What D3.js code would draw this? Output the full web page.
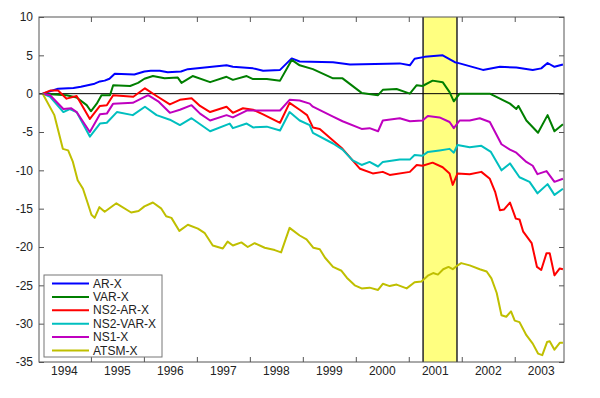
<!DOCTYPE html>
<html>
<head>
<meta charset="utf-8">
<style>
  body { margin: 0; background: #fff; }
  svg { font-family: "Liberation Sans", Arial, sans-serif; }
  .series { fill: none; stroke-width: 2px; stroke-linejoin: round; }
</style>
</head>
<body>
<svg width="600" height="398"></svg>
<script src="https://d3js.org/d3.v7.min.js"></script>
<script>
// values as [decimal year, value]
const arX = [[1994.09,0],[1994.38,0.65],[1994.67,0.75],[1994.81,0.9],[1994.94,1.1],[1995.07,1.3],[1995.17,1.6],[1995.26,1.7],[1995.35,1.95],[1995.45,2.6],[1995.82,2.5],[1996.01,2.9],[1996.13,3.0],[1996.30,3.0],[1996.45,2.8],[1996.70,2.9],[1996.83,3.2],[1997.56,3.7],[1997.68,3.5],[1998.06,3.3],[1998.25,3.0],[1998.57,3.1],[1998.79,4.6],[1998.94,4.2],[1999.57,4.1],[1999.89,3.8],[2000.83,3.95],[2001.02,3.7],[2001.11,4.55],[2001.30,4.8],[2001.64,5.0],[2001.87,4.1],[2001.96,3.95],[2002.40,3.1],[2002.72,3.5],[2003.03,3.4],[2003.34,3.1],[2003.50,3.3],[2003.62,4.0],[2003.75,3.5],[2003.91,3.8]];

const varX = [[1994.09,0],[1994.54,-0.2],[1994.73,-0.5],[1994.92,-1.5],[1995.00,-2.3],[1995.11,-1.3],[1995.20,-0.2],[1995.36,-0.2],[1995.42,1.1],[1995.74,1.0],[1995.89,1.4],[1996.01,1.95],[1996.17,2.3],[1996.39,2.0],[1996.64,2.1],[1996.71,1.4],[1996.92,2.3],[1997.25,1.5],[1997.56,2.2],[1997.68,1.8],[1997.94,2.3],[1998.06,1.9],[1998.32,1.9],[1998.57,1.7],[1998.79,4.4],[1998.94,3.7],[1999.19,3.2],[1999.57,2.0],[1999.75,2.0],[2000.11,0.1],[2000.42,-0.2],[2000.51,0.5],[2000.77,0.6],[2001.02,0.0],[2001.15,1.1],[2001.26,1.0],[2001.45,1.7],[2001.64,1.5],[2001.77,0.2],[2001.85,-1.0],[2001.96,0.0],[2002.53,0],[2002.91,-1.3],[2003.03,-2.0],[2003.07,-1.6],[2003.22,-3.5],[2003.44,-5.1],[2003.62,-2.8],[2003.75,-4.9],[2003.91,-4.0]];

const ns2arX = [[1994.09,0],[1994.23,0.4],[1994.38,0.4],[1994.54,-0.65],[1994.73,-0.3],[1994.98,-3.3],[1995.17,-1.6],[1995.30,-1.5],[1995.42,-0.2],[1995.80,-0.4],[1996.02,0.7],[1996.24,-0.3],[1996.49,-1.4],[1996.68,-0.8],[1996.90,-0.6],[1997.06,-1.6],[1997.25,-2.4],[1997.56,-1.7],[1997.68,-2.5],[1997.87,-1.9],[1998.06,-2.1],[1998.25,-2.7],[1998.57,-3.8],[1998.75,-1.2],[1998.94,-2.1],[1999.08,-2.8],[1999.19,-4.4],[1999.32,-4.6],[1999.57,-6.1],[1999.75,-7.2],[1999.94,-8.7],[2000.08,-9.8],[2000.32,-10.4],[2000.51,-10.2],[2000.64,-10.6],[2001.02,-10.2],[2001.15,-9.3],[2001.26,-9.4],[2001.45,-9.0],[2001.64,-9.6],[2001.77,-10.4],[2001.83,-11.9],[2001.92,-10.4],[2002.15,-10.5],[2002.37,-10.2],[2002.53,-11.1],[2002.63,-12.8],[2002.72,-15.2],[2002.80,-15.1],[2002.91,-14.2],[2003.02,-16.3],[2003.09,-16.4],[2003.16,-18.0],[2003.32,-19.5],[2003.42,-22.6],[2003.50,-23.0],[2003.60,-20.8],[2003.66,-20.8],[2003.75,-23.7],[2003.85,-22.8],[2003.91,-22.9]];

const ns2varX = [[1994.09,0],[1994.23,-0.4],[1994.48,-2.4],[1994.60,-2.0],[1994.73,-2.4],[1994.98,-5.6],[1995.17,-3.9],[1995.30,-3.8],[1995.49,-2.4],[1995.79,-2.8],[1996.02,-1.7],[1996.24,-2.8],[1996.49,-3.4],[1996.68,-4.1],[1996.90,-3.2],[1997.25,-4.9],[1997.62,-3.9],[1997.68,-4.5],[1997.94,-3.9],[1998.06,-4.4],[1998.32,-4.3],[1998.57,-4.8],[1998.75,-2.4],[1998.94,-3.5],[1999.13,-4.1],[1999.19,-5.1],[1999.57,-6.5],[1999.75,-7.3],[1999.94,-8.7],[2000.11,-9.3],[2000.26,-8.9],[2000.42,-9.5],[2000.51,-8.9],[2000.83,-8.6],[2001.02,-8.6],[2001.11,-8.0],[2001.26,-8.1],[2001.36,-7.6],[2001.58,-7.4],[2001.77,-7.2],[2001.85,-7.7],[2001.92,-6.7],[2002.15,-7.0],[2002.37,-6.8],[2002.55,-7.6],[2002.75,-10.0],[2002.91,-9.1],[2003.09,-10.9],[2003.28,-11.5],[2003.43,-13.0],[2003.62,-11.8],[2003.75,-13.2],[2003.91,-12.4]];

const ns1X = [[1994.09,0],[1994.23,-0.2],[1994.48,-2.0],[1994.63,-1.9],[1994.73,-2.4],[1994.98,-5.0],[1995.17,-2.7],[1995.30,-2.6],[1995.42,-1.3],[1995.79,-1.2],[1996.08,-0.2],[1996.27,-1.0],[1996.49,-2.5],[1996.68,-2.1],[1996.90,-1.5],[1997.06,-2.6],[1997.25,-3.5],[1997.56,-2.8],[1997.68,-3.1],[1997.94,-2.2],[1998.32,-2.2],[1998.57,-2.2],[1998.75,-0.8],[1998.94,-0.9],[1999.13,-1.3],[1999.19,-1.7],[1999.57,-3.0],[1999.75,-3.6],[2000.11,-4.6],[2000.26,-4.5],[2000.42,-4.9],[2000.51,-3.5],[2000.83,-3.2],[2001.02,-3.6],[2001.26,-3.5],[2001.36,-2.9],[2001.58,-3.1],[2001.77,-3.7],[2001.85,-4.5],[2001.96,-3.5],[2002.15,-3.5],[2002.34,-3.2],[2002.53,-3.7],[2002.75,-6.6],[2002.91,-7.3],[2003.03,-7.7],[2003.22,-8.9],[2003.34,-9.4],[2003.43,-10.5],[2003.60,-10.1],[2003.75,-11.5],[2003.91,-11.1]];

const atsmX = [[1994.09,0],[1994.31,-2.8],[1994.47,-7.2],[1994.57,-7.4],[1994.66,-8.9],[1994.75,-11.3],[1994.85,-12.4],[1994.94,-14.3],[1995.01,-15.8],[1995.07,-16.2],[1995.16,-14.8],[1995.26,-15.4],[1995.48,-14.3],[1995.76,-15.5],[1995.90,-15.3],[1996.01,-14.7],[1996.17,-14.2],[1996.33,-15.0],[1996.42,-16.0],[1996.52,-16.2],[1996.67,-17.9],[1996.83,-17.1],[1997.02,-17.6],[1997.15,-18.2],[1997.30,-19.8],[1997.49,-20.2],[1997.58,-19.3],[1997.68,-19.8],[1997.84,-19.4],[1997.96,-20.0],[1998.09,-19.5],[1998.28,-20.1],[1998.47,-20.4],[1998.59,-20.7],[1998.75,-17.5],[1998.94,-18.5],[1999.07,-19.0],[1999.20,-20.1],[1999.32,-20.3],[1999.42,-21.4],[1999.57,-22.6],[1999.73,-23.1],[1999.83,-24.0],[1999.98,-25.0],[2000.11,-25.4],[2000.26,-25.3],[2000.42,-25.6],[2000.51,-24.8],[2000.64,-25.1],[2000.77,-24.9],[2000.96,-25.4],[2001.11,-24.6],[2001.24,-24.5],[2001.37,-23.7],[2001.46,-23.4],[2001.55,-23.6],[2001.65,-22.9],[2001.75,-22.6],[2001.83,-22.9],[2001.90,-22.5],[2001.99,-22.1],[2002.15,-22.4],[2002.34,-22.9],[2002.47,-23.2],[2002.56,-24.1],[2002.66,-26.0],[2002.75,-28.9],[2002.84,-29.1],[2002.93,-28.4],[2003.00,-29.6],[2003.09,-29.8],[2003.22,-31.5],[2003.34,-32.6],[2003.44,-33.9],[2003.52,-34.1],[2003.61,-32.4],[2003.66,-32.3],[2003.75,-33.4],[2003.85,-32.5],[2003.91,-32.5]];

const seriesNames = ["AR-X", "VAR-X", "NS2-AR-X", "NS2-VAR-X", "NS1-X", "ATSM-X"];
const seriesData = [arX, varX, ns2arX, ns2varX, ns1X, atsmX];
const seriesColors = ["#0000ff", "#007f00", "#ff0000", "#00bfbf", "#bf00bf", "#bfbf00"];
const recession = [2001.27, 2001.91];
const yearLabels = [1994, 1995, 1996, 1997, 1998, 1999, 2000, 2001, 2002, 2003];
const yTicks = [10, 5, 0, -5, -10, -15, -20, -25, -30, -35];

const svg = d3.select("svg");
const mLeft = 39, mRight = 564, mTop = 17, mBottom = 362;

const x = d3.scaleLinear().domain([1994.02, 2003.93]).range([mLeft, mRight]);
const y = d3.scaleLinear().domain([-35, 10]).range([mBottom, mTop]);

// recession band
svg.append("rect")
  .attr("x", x(recession[0])).attr("y", mTop)
  .attr("width", x(recession[1]) - x(recession[0]))
  .attr("height", mBottom - mTop)
  .attr("fill", "#ffff80");
recession.forEach(r => {
  svg.append("line")
    .attr("x1", x(r)).attr("x2", x(r))
    .attr("y1", mTop).attr("y2", mBottom)
    .attr("stroke", "#333").attr("stroke-width", 1.6);
});

// zero line
svg.append("line")
  .attr("x1", mLeft).attr("x2", mRight)
  .attr("y1", y(0)).attr("y2", y(0))
  .attr("stroke", "#000").attr("stroke-width", 1);

const line = d3.line().x(d => x(d[0])).y(d => y(d[1]));
seriesData.forEach((s, i) => {
  svg.append("path")
    .attr("class", "series")
    .attr("stroke", seriesColors[i])
    .attr("d", line(s));
});

// axes box, ticks pointing inward
const axisColor = "#555";
const yearTicks = d3.range(1995, 2004);
const leftAxis = d3.axisLeft(y).tickValues(yTicks).tickSize(-5).tickPadding(6).tickFormat(d => String(d));
const rightAxis = d3.axisRight(y).tickValues(yTicks).tickSize(-5).tickFormat("");
const bottomAxis = d3.axisBottom(x).tickValues(yearTicks).tickSize(-5).tickFormat("");
const topAxis = d3.axisTop(x).tickValues(yearTicks).tickSize(-5).tickFormat("");

function styleAxis(g) {
  g.select(".domain").remove();
  g.selectAll("line").attr("stroke", axisColor);
  g.selectAll("text").attr("fill", "#222").style("font-size", "12px")
    .style("font-family", "'Liberation Sans', Arial, sans-serif");
}
svg.append("g").attr("transform", `translate(${mLeft},0)`).call(leftAxis).call(styleAxis);
svg.append("g").attr("transform", `translate(${mRight},0)`).call(rightAxis).call(styleAxis);
svg.append("g").attr("transform", `translate(0,${mBottom})`).call(bottomAxis).call(styleAxis);
svg.append("g").attr("transform", `translate(0,${mTop})`).call(topAxis).call(styleAxis);

svg.append("rect")
  .attr("x", mLeft).attr("y", mTop)
  .attr("width", mRight - mLeft).attr("height", mBottom - mTop)
  .attr("fill", "none").attr("stroke", axisColor).attr("stroke-width", 1);

// year labels in the middle of each year
svg.append("g").selectAll("text")
  .data(yearLabels)
  .join("text")
  .attr("x", d => x(d + 0.5))
  .attr("y", 375)
  .attr("text-anchor", "middle")
  .attr("fill", "#222")
  .style("font-size", "12px")
  .text(d => d);

// legend
const lg = svg.append("g").attr("transform", "translate(44,275)");
lg.append("rect")
  .attr("width", 118).attr("height", 82)
  .attr("fill", "#fff").attr("stroke", "#777").attr("stroke-width", 1);
seriesNames.forEach((name, i) => {
  const yy = 8.5 + i * 13.4;
  lg.append("line")
    .attr("x1", 8).attr("x2", 45)
    .attr("y1", yy).attr("y2", yy)
    .attr("stroke", seriesColors[i]).attr("stroke-width", 2);
  lg.append("text")
    .attr("x", 49).attr("y", yy + 4)
    .attr("fill", "#222")
    .style("font-size", "12px")
    .text(name);
});
</script>
</body>
</html>
